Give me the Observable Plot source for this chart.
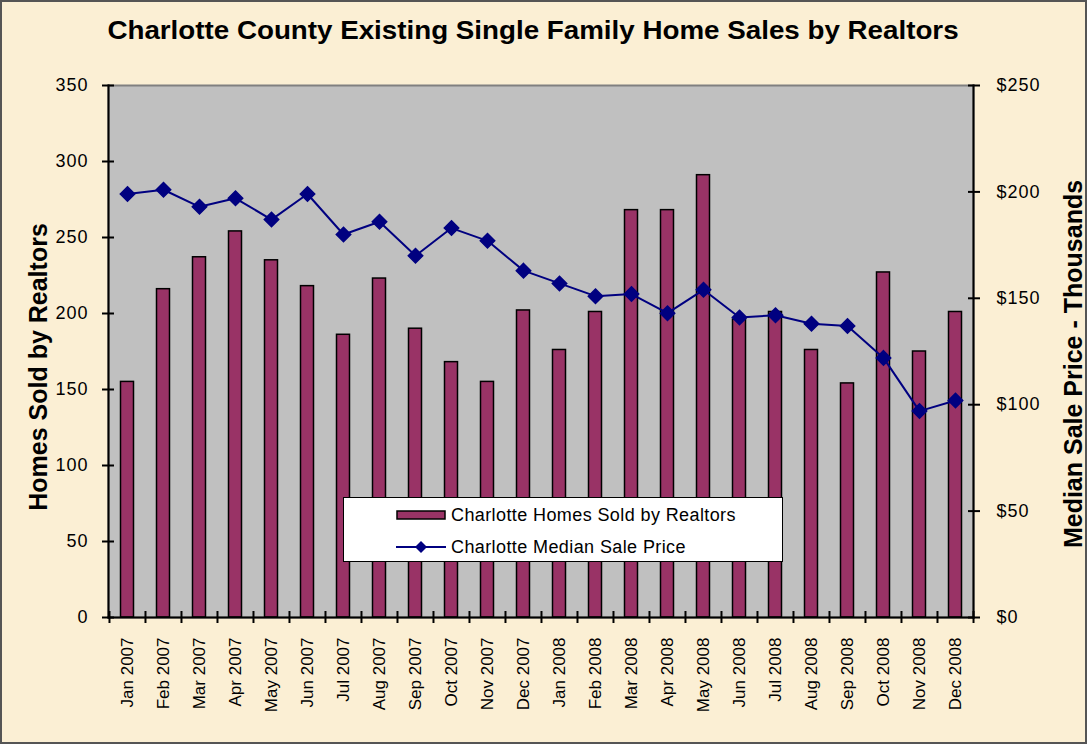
<!DOCTYPE html>
<html><head><meta charset="utf-8">
<script src="https://cdn.jsdelivr.net/npm/d3@7"></script>
<script src="https://cdn.jsdelivr.net/npm/@observablehq/plot@0.6"></script>
<style>
body{margin:0;background:#fff;}
#wrap{position:relative;width:1087px;height:744px;background:#FBEFD4;font-family:"Liberation Sans",Arial,sans-serif;overflow:hidden}
#border{position:absolute;left:0;top:0;width:1087px;height:744px;box-sizing:border-box;border:2px solid #555;pointer-events:none}
#title{position:absolute;left:533px;top:16px;transform:translateX(-50%) scaleX(1.11);font-weight:bold;font-size:25px;color:#000;white-space:nowrap}
.ytitle{position:absolute;font-weight:bold;font-size:25px;white-space:nowrap;transform:translate(-50%,-50%) rotate(-90deg);color:#000}
#legend{position:absolute;left:343px;top:497px;width:440px;height:65px;box-sizing:border-box;background:#fff;border:1.5px solid #000;font-size:18px;letter-spacing:0.4px;color:#000}
#legend .row{position:absolute;left:52px;height:22px;display:flex;align-items:center}
#legend svg{margin-right:5px}
#chart svg{display:block}
#chart svg text{letter-spacing:1px}
#chart svg g[aria-label="x-axis tick label"] text{letter-spacing:0}
</style></head><body>
<div id="wrap">
  <div id="chart"></div>
  <div id="title">Charlotte County Existing Single Family Home Sales by Realtors</div>
  <div class="ytitle" style="left:38px;top:367px">Homes Sold by Realtors</div>
  <div class="ytitle" style="left:1073px;top:364px">Median Sale Price - Thousands</div>
  <div id="legend">
    <div class="row" style="top:6px"><svg width="50" height="10"><rect x="1" y="1" width="48" height="8" fill="#993366" stroke="#000" stroke-width="1.5"/></svg>Charlotte Homes Sold by Realtors</div>
    <div class="row" style="top:38px"><svg width="50" height="14"><line x1="0" y1="7" x2="50" y2="7" stroke="#000080" stroke-width="2"/><path d="M25,1L31,7L25,13L19,7Z" fill="#000080"/></svg>Charlotte Median Sale Price</div>
  </div>
  <div id="border"></div>
</div>
<script>
const months = ["Jan 2007","Feb 2007","Mar 2007","Apr 2007","May 2007","Jun 2007","Jul 2007","Aug 2007","Sep 2007","Oct 2007","Nov 2007","Dec 2007",
  "Jan 2008","Feb 2008","Mar 2008","Apr 2008","May 2008","Jun 2008","Jul 2008","Aug 2008","Sep 2008","Oct 2008","Nov 2008","Dec 2008"];
const homesSold = [155,216,237,254,235,218,186,223,190,168,155,202,176,201,268,268,291,196,201,176,154,227,175,201];
const medianPrice = [199,201,193,197,187,199,180,186,170,183,177,163,157,151,152,143,154,141,142,138,137,122,97,102];
const leftTicks = [0,50,100,150,200,250,300,350];
const rightTicks = [0,50,100,150,200,250];

const leftMax = 350, rightMax = 250, k = leftMax/rightMax;
const data = months.map((m,i)=>({month:m, sold:homesSold[i], price:medianPrice[i]}));
const half = (1087-108-114)/months.length/2;
const blank = () => "";

const chart = Plot.plot({
  width:1087, height:744,
  marginTop:85, marginBottom:127, marginLeft:108, marginRight:114,
  style:{background:"transparent", fontFamily:"'Liberation Sans', Arial, sans-serif", fontSize:"18px", color:"#000", overflow:"visible"},
  x:{domain:months, padding:0, label:null, axis:null},
  y:{domain:[0,leftMax], label:null, axis:null},
  marks:[
    Plot.frame({fill:"#C0C0C0", stroke:"#808080", strokeWidth:2}),
    Plot.barY(data,{x:"month", y:"sold", fill:"#993366", stroke:"#000", strokeWidth:1.5, insetLeft:11.5, insetRight:11.5}),
    Plot.line(data,{x:"month", y:d=>d.price*k, stroke:"#000080", strokeWidth:2}),
    Plot.dot(data,{x:"month", y:d=>d.price*k, symbol:"diamond2", r:6.5, fill:"#000080", stroke:"#000080"}),
    Plot.frame({anchor:"left", stroke:"#000", strokeWidth:2}),
    Plot.frame({anchor:"right", stroke:"#000", strokeWidth:2}),
    Plot.frame({anchor:"bottom", stroke:"#000", strokeWidth:2}),
    // left axis
    Plot.axisY({anchor:"left", ticks:leftTicks, tickSize:12, dx:6, tickFormat:blank, strokeWidth:2}),
    Plot.axisY({anchor:"left", ticks:leftTicks, tickSize:0, tickPadding:20, fontSize:18}),
    // right axis
    Plot.axisY({anchor:"right", ticks:rightTicks.map(v=>v*k), tickSize:12, dx:-6, tickFormat:blank, strokeWidth:2}),
    Plot.axisY({anchor:"right", ticks:rightTicks.map(v=>v*k), tickSize:0, tickPadding:23, tickFormat:v=>"$"+Math.round(v/k), fontSize:18}),
    // bottom axis: ticks at category boundaries
    Plot.axisX({anchor:"bottom", ticks:months, tickSize:12, dx:-half, dy:-6, tickFormat:blank, strokeWidth:2}),
    Plot.axisX({anchor:"bottom", ticks:months.slice(-1), tickSize:12, dx:half, dy:-6, tickFormat:blank, strokeWidth:2}),
    Plot.axisX({anchor:"bottom", ticks:months, tickSize:0, tickPadding:20, tickRotate:-90, fontSize:17})
  ]
});
document.getElementById("chart").appendChild(chart);
</script>
</body></html>
